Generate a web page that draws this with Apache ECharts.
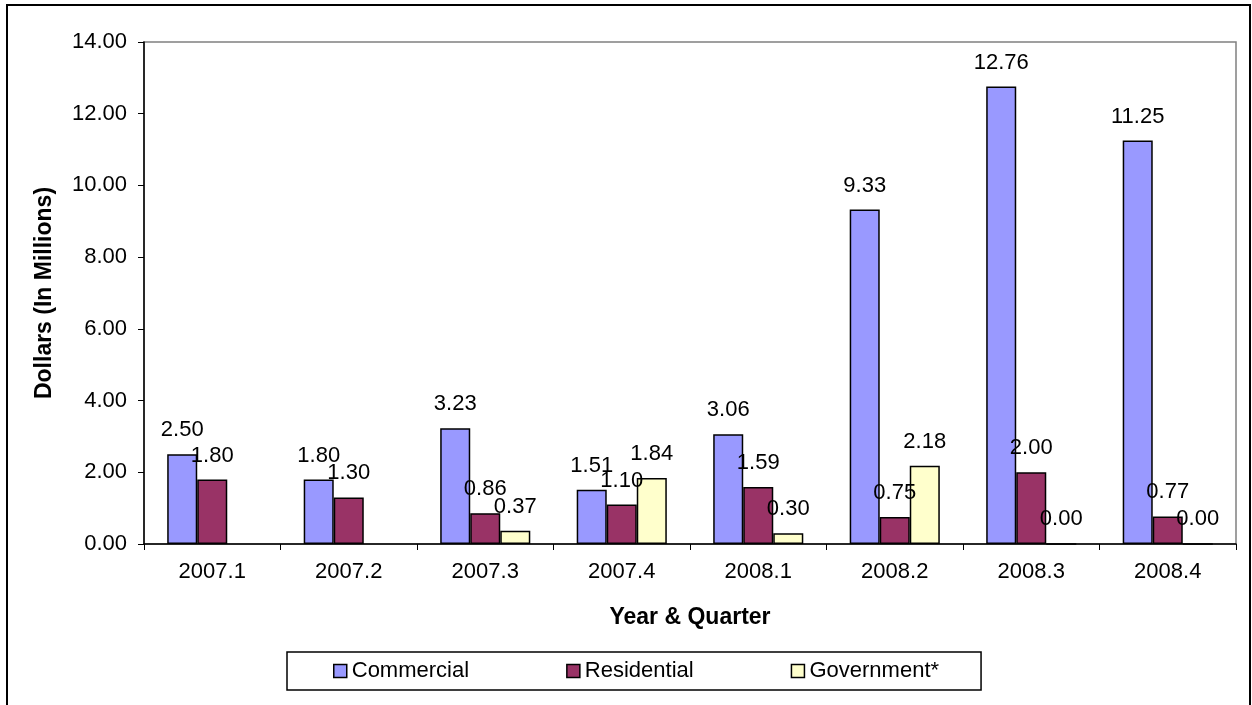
<!DOCTYPE html>
<html>
<head>
<meta charset="utf-8">
<script src="https://cdn.jsdelivr.net/npm/echarts@6/dist/echarts.min.js"></script>
<style>
  html, body { margin: 0; padding: 0; background: #fff; }
  #chart { width: 1252px; height: 705px; }
</style>
</head>
<body>
<div id="chart"></div>
<script>
const quarters = ['2007.1', '2007.2', '2007.3', '2007.4', '2008.1', '2008.2', '2008.3', '2008.4']
const commercial = [2.50, 1.80, 3.23, 1.51, 3.06, 9.33, 12.76, 11.25]
const residential = [1.80, 1.30, 0.86, 1.10, 1.59, 0.75, 2.00, 0.77]
const government = [null, null, 0.37, 1.84, 0.30, 2.18, 0.00, 0.00]

const font = 'Liberation Sans, Arial, sans-serif'

function barSeries(name, data, color) {
  return {
    name: name,
    type: 'bar',
    data: data,
    barGap: '0%',
    barCategoryGap: '34%',
    itemStyle: { color: color, borderColor: '#000', borderWidth: 1.5 },
    label: {
      show: true,
      position: 'top',
      distance: 13,
      color: '#000',
      fontFamily: font,
      fontSize: 22,
      formatter: function (p) { return p.value == null ? '' : p.value.toFixed(2) }
    }
  }
}

const myChart = echarts.init(document.getElementById('chart'))
myChart.setOption({
  animation: false,
  textStyle: { fontFamily: font },
  graphic: [
    {
      type: 'rect',
      shape: { x: 7, y: 5, width: 1243, height: 710 },
      style: { fill: 'none', stroke: '#000', lineWidth: 2 },
      silent: true
    }
  ],
  grid: {
    left: 144,
    top: 42,
    right: 16,
    bottom: 161,
    show: true,
    borderColor: '#808080',
    borderWidth: 1.5
  },
  legend: {
    left: 287,
    top: 652,
    padding: [8, 42, 8, 46],
    itemGap: 97,
    itemWidth: 13,
    itemHeight: 13,
    icon: 'rect',
    borderColor: '#000',
    borderWidth: 1.5,
    textStyle: { fontSize: 22, color: '#000', fontFamily: font },
    itemStyle: { borderColor: '#000', borderWidth: 1.5 },
    data: ['Commercial', 'Residential', 'Government*']
  },
  xAxis: {
    type: 'category',
    data: quarters,
    name: 'Year & Quarter',
    nameLocation: 'middle',
    nameGap: 62,
    nameTextStyle: { fontSize: 23, fontWeight: 'bold', color: '#000' },
    axisLine: { lineStyle: { color: '#000', width: 1.5 } },
    axisTick: { show: true, length: 6, lineStyle: { color: '#000' } },
    axisLabel: { color: '#000', fontSize: 22, margin: 17 }
  },
  yAxis: {
    type: 'value',
    min: 0,
    max: 14,
    interval: 2,
    name: 'Dollars (In Millions)',
    nameLocation: 'middle',
    nameGap: 88,
    nameRotate: 90,
    nameTextStyle: { fontSize: 23, fontWeight: 'bold', color: '#000' },
    axisLine: { show: true, lineStyle: { color: '#000', width: 1.5 } },
    axisTick: { show: true, length: 6, lineStyle: { color: '#000' } },
    splitLine: { show: false },
    axisLabel: {
      color: '#000',
      fontSize: 22,
      margin: 17,
      formatter: function (v) { return v.toFixed(2) }
    }
  },
  series: [
    barSeries('Commercial', commercial, '#9999FF'),
    barSeries('Residential', residential, '#993366'),
    barSeries('Government*', government, '#FFFFCC')
  ]
})
</script>
</body>
</html>
